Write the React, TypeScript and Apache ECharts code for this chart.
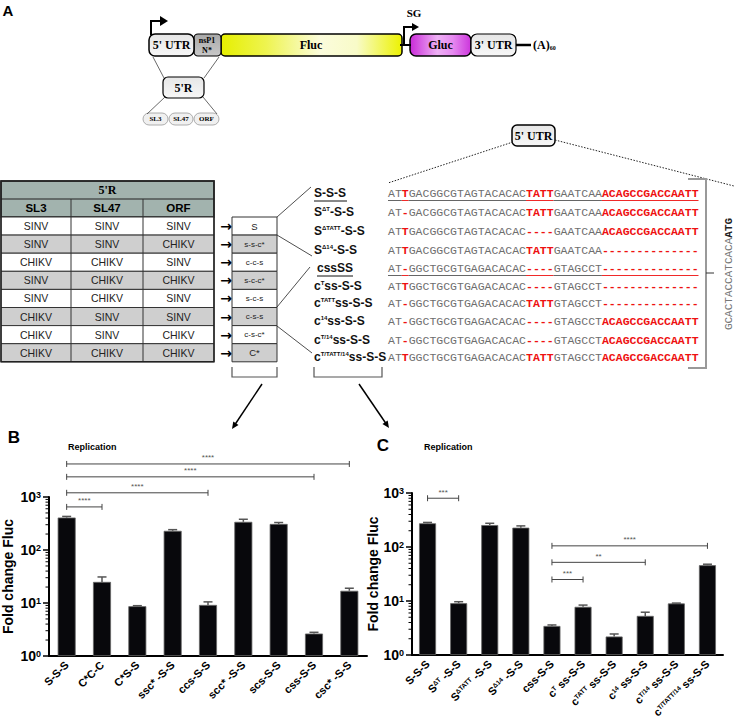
import React, { useEffect, useRef } from 'react';
import * as echarts from 'echarts';

const SANS = 'Liberation Sans, Arial, sans-serif';
const SERIF = 'Liberation Serif, Times New Roman, serif';
const MONO = 'Liberation Mono, Courier New, monospace';

// ---------- Panel B data ----------
const B_CATS = ['S-S-S', 'C*C-C', 'C*S-S', 'ssc* -S-S', 'ccs-S-S', 'scc* -S-S', 'scs-S-S', 'css-S-S', 'csc* -S-S'];
const B_VALUES = [410, 25, 8.7, 230, 9.2, 340, 310, 2.65, 17];
const B_ERRORS = [20, 6, 0.2, 12, 1.3, 40, 20, 0.15, 2];
const B_SIG_FROM = [0, 0, 0, 0];
const B_SIG_TO = [1, 4, 7, 8];
const B_SIG_Y = [650, 1200, 2400, 4200];
const B_SIG_LABEL = ['****', '****', '****', '****'];

// ---------- Panel C data ----------
const C_CATS: string[][] = [
  ['S-S-S', '', ''],
  ['S', '\u0394T', ' -S-S'],
  ['S', '\u0394TATT', ' -S-S'],
  ['S', '\u039414', ' -S-S'],
  ['css-S-S', '', ''],
  ['c', 'T', ' ss-S-S'],
  ['c', 'TATT', ' ss-S-S'],
  ['c', '14', ' ss-S-S'],
  ['c', 'T/14', ' ss-S-S'],
  ['c', 'T/TATT/14', ' ss-S-S'],
];
const C_VALUES = [275, 9.1, 255, 228, 3.45, 7.8, 2.2, 5.3, 9.0, 46];
const C_ERRORS = [10, 0.6, 20, 18, 0.15, 0.6, 0.25, 0.9, 0.15, 2];
const C_SIG_FROM = [0, 4, 4, 4];
const C_SIG_TO = [1, 9, 7, 5];
const C_SIG_Y = [800, 105, 52, 25];
const C_SIG_LABEL = ['***', '****', '**', '***'];

// ---------- axis decoration ----------
const DECADES = [1, 10, 100];
const MINOR_MULTS = [2, 3, 4, 5, 6, 7, 8, 9];

// ---------- Panel A data ----------
const TABLE_COLS = ['SL3', 'SL47', 'ORF'];
const TABLE_ROWS = [
  ['SINV', 'SINV', 'SINV'],
  ['SINV', 'SINV', 'CHIKV'],
  ['CHIKV', 'CHIKV', 'SINV'],
  ['SINV', 'CHIKV', 'CHIKV'],
  ['SINV', 'CHIKV', 'SINV'],
  ['CHIKV', 'SINV', 'SINV'],
  ['CHIKV', 'SINV', 'CHIKV'],
  ['CHIKV', 'CHIKV', 'CHIKV'],
];
const CONSTRUCTS = ['S', 's-s-c*', 'c-c-s', 's-c-c*', 's-c-s', 'c-s-s', 'c-s-c*', 'C*'];
const MUTANTS: string[][] = [
  ['S-S-S', '', ''],
  ['S', '\u0394T', '-S-S'],
  ['S', '\u0394TATT', '-S-S'],
  ['S', '\u039414', '-S-S'],
  ['cssSS', '', ''],
  ['c', 'T', 'ss-S-S'],
  ['c', 'TATT', 'ss-S-S'],
  ['c', '14', 'ss-S-S'],
  ['c', 'T/14', 'ss-S-S'],
  ['c', 'T/TATT/14', 'ss-S-S'],
];
const UNDERLINED = [0, 4];
const SEQUENCES: string[][] = [
  ['AT', '*T', 'GACGGCGTAGTACACAC', '*TATT', 'GAATCAA', '*ACAGCCGACCAATT'],
  ['AT', '*-', 'GACGGCGTAGTACACAC', '*TATT', 'GAATCAA', '*ACAGCCGACCAATT'],
  ['AT', '*T', 'GACGGCGTAGTACACAC', '*----', 'GAATCAA', '*ACAGCCGACCAATT'],
  ['AT', '*T', 'GACGGCGTAGTACACAC', '*TATT', 'GAATCAA', '*--------------'],
  ['AT', '*-', 'GGCTGCGTGAGACACAC', '*----', 'GTAGCCT', '*--------------'],
  ['AT', '*T', 'GGCTGCGTGAGACACAC', '*----', 'GTAGCCT', '*--------------'],
  ['AT', '*-', 'GGCTGCGTGAGACACAC', '*TATT', 'GTAGCCT', '*--------------'],
  ['AT', '*-', 'GGCTGCGTGAGACACAC', '*----', 'GTAGCCT', '*ACAGCCGACCAATT'],
  ['AT', '*-', 'GGCTGCGTGAGACACAC', '*----', 'GTAGCCT', '*ACAGCCGACCAATT'],
  ['AT', '*T', 'GGCTGCGTGAGACACAC', '*TATT', 'GTAGCCT', '*ACAGCCGACCAATT'],
];
const START_SEQ = ['GCACTACCATCACA', 'ATG'];

function T(x: number, y: number, text: string, o: any = {}) {
  const align = o.align ?? 'center';
  return {
    type: 'text', x, y, z: 20, rotation: o.rotation ?? 0,
    style: {
      text, fontSize: o.size ?? 10, fontWeight: o.weight ?? 'normal', fontFamily: o.family ?? SANS,
      fill: o.color ?? '#000', align, textAlign: align, verticalAlign: 'middle', textVerticalAlign: 'middle',
      rich: o.rich,
    },
  };
}
function L(x1: number, y1: number, x2: number, y2: number, stroke = '#000', lw = 1, dash?: number[]) {
  return { type: 'line', z: 15, shape: { x1, y1, x2, y2 }, style: { stroke, lineWidth: lw, lineDash: dash } };
}
function R(x: number, y: number, w: number, h: number, fill: any, stroke = '#000', lw = 1, r = 0) {
  return { type: 'rect', z: 10, shape: { x, y, width: w, height: h, r }, style: { fill, stroke, lineWidth: lw } };
}
function ARROW(x1: number, y1: number, x2: number, y2: number, lw = 1.5, head = 7) {
  const dx = x2 - x1, dy = y2 - y1;
  const len = Math.sqrt(dx * dx + dy * dy);
  const ux = dx / len, uy = dy / len;
  const bx = x2 - ux * head, by = y2 - uy * head;
  const px = -uy * head * 0.45, py = ux * head * 0.45;
  return [
    L(x1, y1, bx + ux * 1, by + uy * 1, '#000', lw),
    { type: 'polygon', z: 15, shape: { points: [[x2, y2], [bx + px, by + py], [bx - px, by - py]] }, style: { fill: '#000' } },
  ];
}

function grad(stops: [number, string][]) {
  return new echarts.graphic.LinearGradient(0, 0, 1, 0, stops.map(([offset, color]) => ({ offset, color })));
}
function vgrad(stops: [number, string][]) {
  return new echarts.graphic.LinearGradient(0, 0, 0, 1, stops.map(([offset, color]) => ({ offset, color })));
}

function buildGraphics() {
  const g: any[] = [];
  // Panel letters
  g.push(T(8, 10, 'A', { size: 15, weight: 'bold' }));
  g.push(T(14, 437, 'B', { size: 17, weight: 'bold' }));
  g.push(T(383, 445, 'C', { size: 17, weight: 'bold' }));
  g.push(T(68, 447, 'Replication', { size: 9, weight: 'bold', align: 'left' }));
  g.push(T(424, 447, 'Replication', { size: 9, weight: 'bold', align: 'left' }));

  // ---- genome schematic ----
  const greyFill = vgrad([[0, '#e6e6e6'], [1, '#f7f7f7']]);
  g.push({ type: 'polyline', z: 15, shape: { points: [[151, 35], [151, 21], [161, 21]] }, style: { stroke: '#000', lineWidth: 2, fill: null } });
  g.push({ type: 'polygon', z: 15, shape: { points: [[160, 16], [168, 21], [160, 26]] }, style: { fill: '#000' } });
  g.push(L(400, 45, 411, 45, '#000', 2));
  g.push({ type: 'polyline', z: 15, shape: { points: [[404, 45], [404, 27], [413, 27]] }, style: { stroke: '#000', lineWidth: 2, fill: null } });
  g.push({ type: 'polygon', z: 15, shape: { points: [[412, 23], [419, 27], [412, 31]] }, style: { fill: '#000' } });
  g.push(T(414, 13, 'SG', { size: 11, weight: 'bold', family: SERIF }));

  g.push(R(221, 34, 181, 22, grad([[0, '#e6ef00'], [0.25, '#eef450'], [0.55, '#fbfcdc'], [0.75, '#f8fbc8'], [1, '#ecf200']]), '#000', 1.5, 4));
  g.push(T(311, 45, 'Fluc', { size: 12, weight: 'bold', family: SERIF }));
  g.push(R(194, 34, 27, 22, vgrad([[0, '#a8a8a8'], [1, '#c8c8c8']]), '#000', 1.2, 4));
  g.push(T(207, 40, 'nsP1', { size: 8, weight: 'bold', family: SERIF }));
  g.push(T(207, 50, 'N*', { size: 8, weight: 'bold', family: SERIF }));
  g.push(R(149, 34, 45, 22, greyFill, '#000', 1.5, 6));
  g.push(T(171.5, 45, "5' UTR", { size: 12, weight: 'bold', family: SERIF }));
  g.push(R(410, 34, 61, 22, grad([[0, '#c92ad8'], [0.45, '#eeb0f4'], [0.7, '#e68af0'], [1, '#cc35dc']]), '#000', 1.5, 6));
  g.push(T(440.5, 45, 'Gluc', { size: 12, weight: 'bold', family: SERIF }));
  g.push(R(471, 34, 45, 22, greyFill, '#000', 1.2, 6));
  g.push(T(493.5, 45, "3' UTR", { size: 12, weight: 'bold', family: SERIF }));
  g.push(L(516, 45, 531, 45, '#000', 2.5));
  g.push(T(533, 45, '{a|(A)}{s|60}', { align: 'left', rich: {
    a: { fontSize: 12, fontWeight: 'bold', fontFamily: SERIF, fill: '#000', color: '#000' },
    s: { fontSize: 6, fontWeight: 'bold', fontFamily: SERIF, fill: '#000', color: '#000', verticalAlign: 'bottom' },
  } }));

  // 5'R zoom
  g.push(L(153, 57, 164, 78, '#444', 0.8));
  g.push(L(219, 57, 204, 78, '#444', 0.8));
  g.push(R(163, 77, 41, 21, greyFill, '#000', 1.2, 5));
  g.push(T(183.5, 87.5, "5'R", { size: 12, weight: 'bold', family: SERIF }));
  g.push(L(165, 97, 147, 114, '#444', 0.8));
  g.push(L(203, 97, 217, 114, '#444', 0.8));
  const ov = [[143, 25, 'SL3'], [169, 24, 'SL47'], [194, 25, 'ORF']] as [number, number, string][];
  ov.forEach(([x, w, t]) => {
    g.push(R(x, 113, w, 12, '#f0f0f0', '#999', 0.8, 6));
    g.push(T(x + w / 2, 119, t, { size: 7, weight: 'bold', family: SERIF }));
  });

  // ---- table ----
  const colX = [1, 71, 143, 214];
  const rowH = 18.1;
  const top0 = 217;
  g.push(R(1, 181, 213, 36, '#a2b3ae', '#222', 1.5));
  g.push(T(107.5, 190, "5'R", { size: 12, weight: 'bold', family: SERIF }));
  g.push(L(1, 199, 214, 199, '#222', 1.2));
  TABLE_COLS.forEach((c, i) => {
    g.push(T((colX[i] + colX[i + 1]) / 2, 208, c, { size: 11.5, weight: 'bold' }));
  });
  TABLE_ROWS.forEach((row, r) => {
    const y = top0 + r * rowH;
    g.push(R(1, y, 213, rowH, r % 2 === 0 ? '#ffffff' : '#cfcfcf', '#333', 1));
    row.forEach((v, i) => g.push(T((colX[i] + colX[i + 1]) / 2, y + rowH / 2, v, { size: 10.5, color: '#222' })));
    g.push(T(226, y + rowH / 2, '\u2192', { size: 14, weight: 'bold', family: 'DejaVu Sans' }));
    g.push(R(232, y, 45, rowH, r % 2 === 0 ? '#ffffff' : '#cfcfcf', '#333', 1));
    const c = CONSTRUCTS[r];
    g.push(T(254.5, y + rowH / 2, c, { size: c.length <= 2 ? 9.5 : 8, color: '#222' }));
  });
  g.push(L(71, 199, 71, top0 + 8 * rowH, '#333', 1));
  g.push(L(143, 199, 143, top0 + 8 * rowH, '#333', 1));
  g.push({ type: 'rect', z: 16, shape: { x: 1, y: 181, width: 213, height: 36 + 8 * rowH }, style: { fill: null, stroke: '#222', lineWidth: 1.5 } });

  // brackets + arrows
  g.push({ type: 'polyline', z: 15, shape: { points: [[232, 367], [232, 377], [277, 377], [277, 367]] }, style: { stroke: '#555', lineWidth: 1.2, fill: null } });
  g.push({ type: 'polyline', z: 15, shape: { points: [[314, 367], [314, 377], [382, 377], [382, 367]] }, style: { stroke: '#555', lineWidth: 1.2, fill: null } });
  g.push(...ARROW(262, 384, 232, 429));
  g.push(...ARROW(359, 384, 389, 428));

  // connectors construct -> mutants
  g.push(L(277, 217, 311, 187, '#222', 0.8));
  g.push(L(277, 235, 312, 256, '#222', 0.8));
  g.push(L(277, 307, 310, 267, '#222', 0.8));
  g.push(L(277, 326, 312, 353, '#222', 0.8));

  // mutant labels and sequences
  const rowY = [193, 212, 231, 250, 268, 286, 303, 321, 340, 357];
  const labRich = {
    b: { fontSize: 12, fontWeight: 'bold', fontFamily: SANS, fill: '#111', color: '#111' },
    s: { fontSize: 6, fontWeight: 'bold', fontFamily: SANS, fill: '#111', color: '#111', verticalAlign: 'top' },
  };
  const CW = 6.9;
  const seqRich = {
    g: { fontSize: 11.5, fontFamily: MONO, fill: '#6e6e6e', color: '#6e6e6e' },
    r: { fontSize: 11.5, fontFamily: MONO, fontWeight: 'bold', fill: '#ee1111', color: '#ee1111' },
  };
  MUTANTS.forEach((m, i) => {
    const y = rowY[i];
    const lx = i === 4 ? 317 : 314;
    const txt = m[1] ? `{b|${m[0]}}{s|${m[1]}}{b|${m[2]}}` : `{b|${m[0]}}`;
    g.push(T(lx, y, txt, { align: 'left', rich: labRich }));
    const segs = SEQUENCES[i];
    const txt2 = segs.map((s) => (s[0] === '*' ? `{r|${s.slice(1)}}` : `{g|${s}}`)).join('');
    g.push(T(388, y, txt2, { align: 'left', rich: seqRich }));
    if (UNDERLINED.includes(i)) {
      g.push(L(lx, y + 8, lx + (i === 4 ? 36 : 33), y + 8, '#111', 1));
      let cx = 388;
      segs.forEach((s) => {
        const red = s[0] === '*';
        const n = red ? s.length - 1 : s.length;
        g.push(L(cx, y + 7.5, cx + n * CW, y + 7.5, red ? '#ee1111' : '#555', 0.9));
        cx += n * CW;
      });
    }
  });

  // 5' UTR callout
  g.push(L(513, 142, 388, 183, '#222', 1, [1.5, 1.5]));
  g.push(L(555, 140, 734, 186, '#222', 1, [1.5, 1.5]));
  g.push(R(512, 125, 43, 21, greyFill, '#000', 1.5, 5));
  g.push(T(533.5, 135.5, "5' UTR", { size: 12, weight: 'bold', family: SERIF }));

  // right bracket & start sequence
  g.push({ type: 'polyline', z: 15, shape: { points: [[688, 179], [706, 179], [706, 368], [688, 368]] }, style: { stroke: '#999', lineWidth: 2, fill: null } });
  g.push(L(706, 273, 714, 273, '#333', 1));
  g.push(T(729, 274, `{g|${START_SEQ[0]}}{k|${START_SEQ[1]}}`, { rotation: Math.PI / 2, rich: {
    g: { fontSize: 11, fontFamily: MONO, fill: '#777', color: '#777' },
    k: { fontSize: 11, fontFamily: MONO, fontWeight: 'bold', fill: '#222', color: '#222' },
  } }));
  return g;
}

const yLabelRich = {
  b: { fontSize: 14, fontWeight: 'bold', fontFamily: SANS, color: '#000' },
  s: { fontSize: 9, fontWeight: 'bold', fontFamily: SANS, color: '#000', verticalAlign: 'top' },
};

function yAxis(gridIndex: number, nameGap: number) {
  return {
    type: 'log', logBase: 10, min: 1, max: 1000, gridIndex,
    axisLine: { show: true, lineStyle: { color: '#000', width: 2 } },
    axisTick: { show: true, length: 6, lineStyle: { color: '#000', width: 1.5 } },
    splitLine: { show: false },
    axisLabel: {
      margin: 8,
      formatter: (v: number) => `{b|10}{s|${Math.round(Math.log10(v))}}`,
      rich: yLabelRich,
    },
    name: 'Fold change Fluc', nameLocation: 'middle', nameGap,
    nameTextStyle: { fontSize: 14, fontWeight: 'bold', fontFamily: SANS, color: '#000' },
  };
}

function xAxis(gridIndex: number, data: string[], formatter: any) {
  return {
    type: 'category', gridIndex, data,
    axisLine: { lineStyle: { color: '#000', width: 2 } },
    axisTick: { alignWithLabel: true, length: 5, lineStyle: { color: '#000', width: 1.5 } },
    axisLabel: {
      rotate: 45, interval: 0, margin: 7, formatter,
      rich: {
        m: { fontSize: 11, fontWeight: 'bold', fontFamily: SANS, color: '#000' },
        u: { fontSize: 6.5, fontWeight: 'bold', fontFamily: SANS, color: '#000', verticalAlign: 'top' },
      },
    },
  };
}

function errSeries(idx: number, values: number[], errs: number[]) {
  return {
    type: 'custom', xAxisIndex: idx, yAxisIndex: idx, z: 4, clip: false,
    encode: { x: 0, y: 1 },
    data: values.map((v, i) => [i, v, errs[i]]),
    renderItem: (params: any, api: any) => {
      const i = api.value(0), v = api.value(1), e = api.value(2);
      const a = api.coord([i, v]);
      const b = api.coord([i, v + e]);
      const st = { stroke: '#555', lineWidth: 1.5 };
      return {
        type: 'group', children: [
          { type: 'line', shape: { x1: a[0], y1: a[1], x2: b[0], y2: b[1] }, style: st },
          { type: 'line', shape: { x1: b[0] - 4.5, y1: b[1], x2: b[0] + 4.5, y2: b[1] }, style: st },
        ],
      };
    },
  };
}

function sigSeries(idx: number, from: number[], to: number[], ys: number[], labels: string[]) {
  return {
    type: 'custom', xAxisIndex: idx, yAxisIndex: idx, z: 6, clip: false,
    encode: { x: 0, y: 2 },
    data: from.map((f, i) => [f, to[i], ys[i]]),
    renderItem: (params: any, api: any) => {
      const a = api.coord([api.value(0), api.value(2)]);
      const b = api.coord([api.value(1), api.value(2)]);
      const st = { stroke: '#444', lineWidth: 1 };
      return {
        type: 'group', children: [
          { type: 'line', shape: { x1: a[0], y1: a[1], x2: b[0], y2: b[1] }, style: st },
          { type: 'line', shape: { x1: a[0], y1: a[1] - 3, x2: a[0], y2: a[1] + 3 }, style: st },
          { type: 'line', shape: { x1: b[0], y1: b[1] - 3, x2: b[0], y2: b[1] + 3 }, style: st },
          {
            type: 'text', x: (a[0] + b[0]) / 2, y: a[1] - 6,
            style: { text: labels[params.dataIndex], fontSize: 8, fontFamily: SANS, fill: '#555', align: 'center', textAlign: 'center', verticalAlign: 'middle', textVerticalAlign: 'middle' },
          },
        ],
      };
    },
  };
}

function minorSeries(idx: number) {
  const data = DECADES.flatMap((d) => MINOR_MULTS.map((m) => [0, d * m]));
  return {
    type: 'custom', xAxisIndex: idx, yAxisIndex: idx, z: 6, clip: false,
    encode: { x: 0, y: 1 },
    data,
    renderItem: (params: any, api: any) => {
      const p = api.coord([0, api.value(1)]);
      const cs = params.coordSys;
      return { type: 'line', shape: { x1: cs.x - 3.5, y1: p[1], x2: cs.x, y2: p[1] }, style: { stroke: '#000', lineWidth: 1 } };
    },
  };
}

export default function App() {
  const ref = useRef<HTMLDivElement>(null);
  useEffect(() => {
    if (!ref.current) return;
    const chart = echarts.init(ref.current, null, { renderer: 'svg' });
    const bNames = B_CATS;
    const cNames = C_CATS.map((c) => c.join(''));
    chart.setOption({
      animation: false,
      backgroundColor: '#fff',
      textStyle: { fontFamily: SANS },
      grid: [
        { left: 47, top: 497, width: 320, height: 159 },
        { left: 412, top: 493, width: 311, height: 162 },
      ],
      xAxis: [
        xAxis(0, bNames, (v: string) => `{m|${v}}`),
        xAxis(1, cNames, (v: string, i: number) => {
          const c = C_CATS[i];
          return c[1] ? `{m|${c[0]}}{u|${c[1]}}{m|${c[2]}}` : `{m|${c[0]}}`;
        }),
      ],
      yAxis: [yAxis(0, 34), yAxis(1, 32)],
      series: [
        { type: 'bar', xAxisIndex: 0, yAxisIndex: 0, data: B_VALUES, barWidth: 18, itemStyle: { color: '#08080c', borderColor: '#666', borderWidth: 0.8 } },
        { type: 'bar', xAxisIndex: 1, yAxisIndex: 1, data: C_VALUES, barWidth: 17, itemStyle: { color: '#08080c', borderColor: '#666', borderWidth: 0.8 } },
        errSeries(0, B_VALUES, B_ERRORS),
        errSeries(1, C_VALUES, C_ERRORS),
        sigSeries(0, B_SIG_FROM, B_SIG_TO, B_SIG_Y, B_SIG_LABEL),
        sigSeries(1, C_SIG_FROM, C_SIG_TO, C_SIG_Y, C_SIG_LABEL),
        minorSeries(0),
        minorSeries(1),
      ],
      graphic: { elements: buildGraphics() },
    });
    return () => chart.dispose();
  }, []);
  return <div ref={ref} style={{ position: 'fixed', left: 0, top: 0, width: 734, height: 726, background: '#fff' }} />;
}
